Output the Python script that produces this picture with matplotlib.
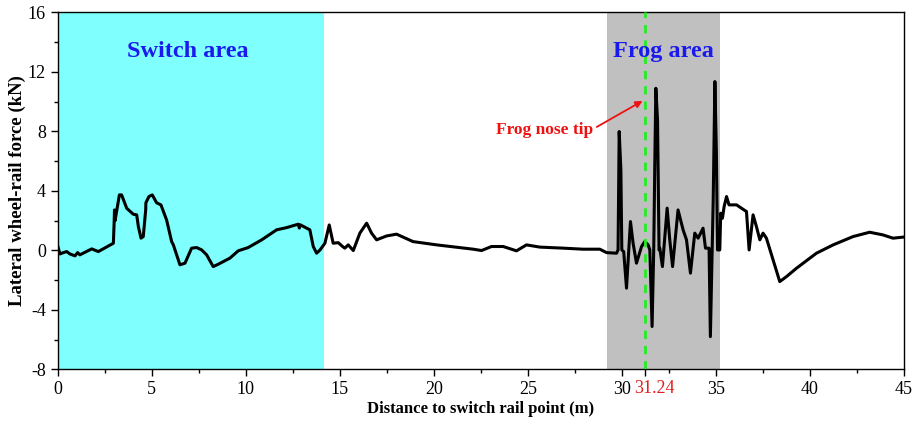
import matplotlib.pyplot as plt
from matplotlib.ticker import MultipleLocator

plt.rcParams["font.family"] = ["Liberation Serif", "DejaVu Serif"]
plt.rcParams["axes.unicode_minus"] = False

# distance to switch rail point (m) and lateral wheel-rail force (kN)
distance = [
    0.0, 0.12, 0.3, 0.48, 0.65, 0.92, 1.06, 1.18, 1.81, 2.16, 2.96, 3.0, 3.02,
    3.05, 3.28, 3.4, 3.67, 4.02, 4.2, 4.29, 4.43, 4.55, 4.68, 4.69, 4.85, 5.03,
    5.26, 5.49, 5.79, 6.06, 6.15, 6.5, 6.77, 7.12, 7.39, 7.66, 7.92, 8.27, 8.54,
    9.16, 9.6, 10.13, 10.85, 11.64, 12.17, 12.79, 12.85, 12.9, 13.41, 13.59,
    13.77, 13.95, 14.21, 14.44, 14.65, 14.92, 15.15, 15.27, 15.45, 15.72, 16.07,
    16.43, 16.69, 16.96, 17.49, 18.02, 18.9, 20.15, 21.39, 22.1, 22.54, 23.07,
    23.69, 24.4, 24.93, 25.64, 26.88, 27.94, 28.83, 29.19, 29.72, 29.8, 29.86,
    29.95, 30.0, 30.1, 30.25, 30.46, 30.6, 30.78, 31.05, 31.22, 31.4, 31.49,
    31.61, 31.7, 31.75, 31.81, 31.9, 31.98, 32.02, 32.16, 32.41, 32.55, 32.7,
    32.99, 33.26, 33.44, 33.65, 33.88, 34.06, 34.32, 34.45, 34.64, 34.71, 34.86,
    34.95, 35.03, 35.09, 35.21, 35.26, 35.35, 35.44, 35.57, 35.7, 36.1, 36.63,
    36.77, 36.98, 37.16, 37.34, 37.51, 37.69, 38.4, 38.76, 39.29, 40.35, 41.24,
    42.3, 43.18, 43.89, 44.42, 44.95,
]
force = [
    0.3, -0.24, -0.15, -0.08, -0.24, -0.37, -0.15, -0.3, 0.1, -0.08, 0.48, 1.83,
    2.72, 2.0, 3.73, 3.73, 2.83, 2.43, 2.39, 1.6, 0.82, 0.93, 2.72, 3.2, 3.62,
    3.73, 3.2, 3.06, 2.05, 0.59, 0.37, -0.97, -0.86, 0.15, 0.19, 0.03, -0.3,
    -1.09, -0.93, -0.52, -0.03, 0.19, 0.71, 1.38, 1.53, 1.76, 1.5, 1.72, 1.38,
    0.26, -0.19, 0.03, 0.48, 1.71, 0.48, 0.52, 0.26, 0.15, 0.37, -0.01, 1.16,
    1.83, 1.16, 0.71, 0.97, 1.09, 0.59, 0.37, 0.19, 0.08, -0.01, 0.26, 0.26,
    -0.03, 0.37, 0.22, 0.15, 0.08, 0.08, -0.15, -0.19, 0.03, 7.99, 5.41, 0.03,
    -0.08, -2.54, 1.94, 0.48, -0.86, 0.26, 0.59, 0.37, 0.03, -5.12, 0.26, 5.41,
    10.9, 8.77, 0.03, 0.15, -1.09, 2.84, 0.71, -1.09, 2.72, 1.38, 0.71, -1.53,
    1.16, 0.82, 1.49, 0.15, 0.15, -5.8, 3.39, 11.35, 6.53, 0.03, 0.03, 2.5,
    2.16, 2.94, 3.62, 3.06, 3.06, 2.61, 0.03, 2.39, 1.6, 0.71, 1.16, 0.82, -2.1,
    -1.76, -1.2, -0.19, 0.37, 0.93, 1.22, 1.04, 0.82, 0.89,
]

switch_area = (0, 14.15)
frog_area = (29.19, 35.21)
nose_tip = 31.24

fig = plt.figure(figsize=(9.13, 4.28), dpi=100)
ax = fig.add_axes([0.0632, 0.137, 0.9268, 0.834])

ax.axvspan(*switch_area, color="#80ffff", lw=0, zorder=0)
ax.axvspan(*frog_area, color="#c0c0c0", lw=0, zorder=0)
ax.plot(distance, force, color="black", lw=2.2, zorder=2)
ax.axvline(nose_tip, color="#22ee22", lw=2, ls=(0, (3, 2.5)), zorder=3)

ax.set_xlim(0, 45)
ax.set_ylim(-8, 16)
ax.set_xticks([0, 5, 10, 15, 20, 25, 30, nose_tip, 35, 40, 45])
ax.set_xticklabels(["0", "5", "10", "15", "20", "25", "30", "", "35", "40", "45"])
ax.xaxis.set_minor_locator(MultipleLocator(2.5))
ax.set_yticks([-8, -4, 0, 4, 8, 12, 16])
ax.yaxis.set_minor_locator(MultipleLocator(2))
ax.tick_params(which="major", direction="out", length=5, width=1, labelsize=13)
ax.tick_params(which="minor", direction="out", length=3, width=1)
for s in ax.spines.values():
    s.set_linewidth(1)

# the red tick label sits a little to the right of its tick in the original
ax.annotate("31.24", xy=(nose_tip, 0), xycoords=ax.get_xaxis_transform(),
            xytext=(7, -7.6), textcoords="offset points", ha="center", va="top",
            color="#e02020", fontsize=13)

ax.set_xlabel("Distance to switch rail point (m)", fontsize=12, fontweight="bold", labelpad=2)
ax.set_ylabel("Lateral wheel-rail force (kN)", fontsize=13.5, fontweight="bold", labelpad=1)

ax.text(6.9, 13.35, "Switch area", color="#1a1aee", fontsize=17.5, fontweight="bold",
        ha="center", va="center")
ax.text(32.2, 13.35, "Frog area", color="#1a1aee", fontsize=17.5, fontweight="bold",
        ha="center", va="center")
ax.text(28.5, 8.1, "Frog nose tip", color="#ee1111", fontsize=12.5, fontweight="bold",
        ha="right", va="center")
ax.annotate("", xy=(31.1, 10.05), xytext=(28.67, 8.3),
            arrowprops=dict(arrowstyle="-|>", color="#ee1111", lw=1.3,
                            mutation_scale=10, shrinkA=0, shrinkB=0))

fig.savefig("out.png", dpi=100)
